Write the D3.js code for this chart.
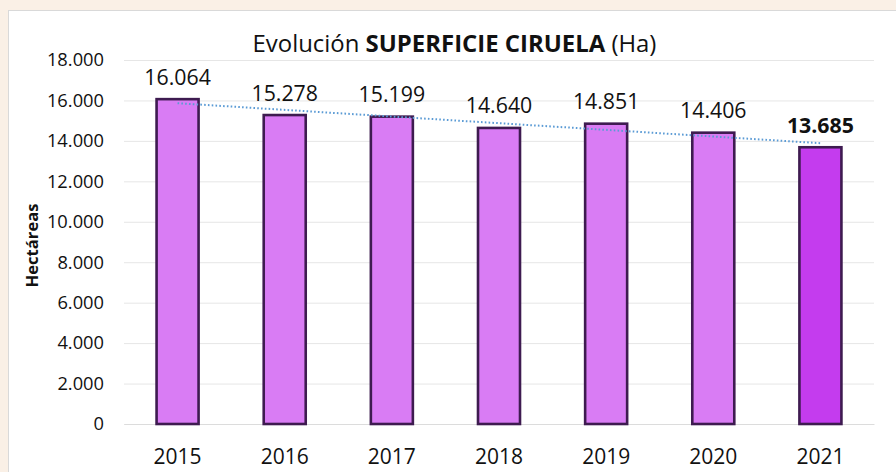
<!DOCTYPE html>
<html>
<head>
<meta charset="utf-8">
<script src="https://cdn.jsdelivr.net/npm/d3@7"></script>
<style>
  html, body { margin: 0; padding: 0; background: #FAF0E6; }
  svg { display: block; font-family: "Open Sans", Lato, sans-serif; }
</style>
</head>
<body>
<svg id="chart" width="896" height="472"></svg>
<script>
// Plum growing area (hectares) per year
const years = ["2015", "2016", "2017", "2018", "2019", "2020", "2021"];
const hectares = [16064, 15278, 15199, 14640, 14851, 14406, 13685];
const yTicks = [0, 2000, 4000, 6000, 8000, 10000, 12000, 14000, 16000, 18000];
const highlightYear = "2021";

const data = years.map((y, i) => ({ year: y, value: hectares[i] }));

const svg = d3.select("#chart");
const W = 896, H = 472;
const plot = { left: 124, right: 874, top: 60, bottom: 424 };
const FONT = "'Open Sans', Lato, sans-serif";

// Thousands separator uses a dot
const fmt = d3.formatLocale({ decimal: ",", thousands: ".", grouping: [3], currency: ["", ""] }).format(",d");

// Chart panel
svg.append("rect")
  .attr("x", 8.5).attr("y", 10.5)
  .attr("width", W + 10).attr("height", H + 10)
  .attr("fill", "#ffffff")
  .attr("stroke", "#d9d9d9").attr("stroke-width", 1);

const x = d3.scaleBand()
  .domain(years)
  .range([plot.left, plot.right])
  .paddingInner(0.608)
  .paddingOuter(0.304);

const y = d3.scaleLinear()
  .domain([0, 18000])
  .range([plot.bottom, plot.top]);

// Horizontal gridlines + tick labels
const yAxis = d3.axisLeft(y)
  .tickValues(yTicks)
  .tickFormat(fmt)
  .tickSize(-(plot.right - plot.left))
  .tickPadding(20);

const gy = svg.append("g")
  .attr("transform", `translate(${plot.left},0)`)
  .call(yAxis);
gy.select(".domain").remove();
gy.selectAll(".tick line").attr("stroke", "#e6e6e6").attr("stroke-width", 1);
gy.selectAll(".tick text")
  .attr("fill", "#111")
  .attr("font-size", 18.3)
  .attr("font-family", FONT);

// Category axis labels
const xAxis = d3.axisBottom(x).tickSize(0).tickPadding(0);
const gx = svg.append("g")
  .attr("transform", `translate(0,${plot.bottom})`)
  .call(xAxis);
gx.select(".domain").attr("stroke", "#dcdcdc");
gx.selectAll(".tick text")
  .attr("fill", "#111")
  .attr("font-size", 21)
  .attr("font-family", FONT)
  .attr("dy", null)
  .attr("y", 40);

// Bars
svg.append("g").selectAll("rect")
  .data(data)
  .join("rect")
  .attr("x", d => x(d.year))
  .attr("y", d => y(d.value))
  .attr("width", x.bandwidth())
  .attr("height", d => y(0) - y(d.value))
  .attr("fill", d => d.year === highlightYear ? "#C43CEE" : "#D97CF4")
  .attr("stroke", "#3E1B50")
  .attr("stroke-width", 2.6);

// Linear trend line (least squares over the series)
const n = data.length;
const xs = d3.range(n);
const mx = d3.mean(xs), my = d3.mean(hectares);
const slope = d3.sum(xs, i => (i - mx) * (hectares[i] - my)) / d3.sum(xs, i => (i - mx) ** 2);
const intercept = my - slope * mx;
const trend = [0, n - 1].map(i => ({ year: years[i], value: intercept + slope * i }));

svg.append("path")
  .datum(trend)
  .attr("fill", "none")
  .attr("stroke", "#5B9BD5")
  .attr("stroke-width", 2)
  .attr("stroke-dasharray", "1.6,2.2")
  .attr("d", d3.line().x(d => x(d.year) + x.bandwidth() / 2).y(d => y(d.value)));

// Value labels
svg.append("g").selectAll("text")
  .data(data)
  .join("text")
  .attr("x", d => x(d.year) + x.bandwidth() / 2)
  .attr("y", d => y(d.value) - 14.5)
  .attr("text-anchor", "middle")
  .attr("font-size", 21.3)
  .attr("font-weight", d => d.year === highlightYear ? 700 : 400)
  .attr("fill", "#111")
  .text(d => fmt(d.value));

// Title, scaled to span its slot
const title = svg.append("text")
  .attr("x", 454.5).attr("y", 52)
  .attr("text-anchor", "middle")
  .attr("font-size", 20)
  .attr("fill", "#111");
title.append("tspan").text("Evolución ");
title.append("tspan").attr("font-weight", 700).text("SUPERFICIE CIRUELA");
title.append("tspan").text(" (Ha)");
const tw = title.node().getComputedTextLength();
title.attr("font-size", Math.min(26, 20 * 404 / tw));

// Y axis title
const ylab = svg.append("text")
  .attr("transform", `translate(37.5,245.5) rotate(-90)`)
  .attr("text-anchor", "middle")
  .attr("font-size", 16)
  .attr("font-weight", 700)
  .attr("fill", "#111")
  .text("Hectáreas");
const yw = ylab.node().getComputedTextLength();
ylab.attr("font-size", Math.min(17, 16 * 84 / yw));
</script>
</body>
</html>
